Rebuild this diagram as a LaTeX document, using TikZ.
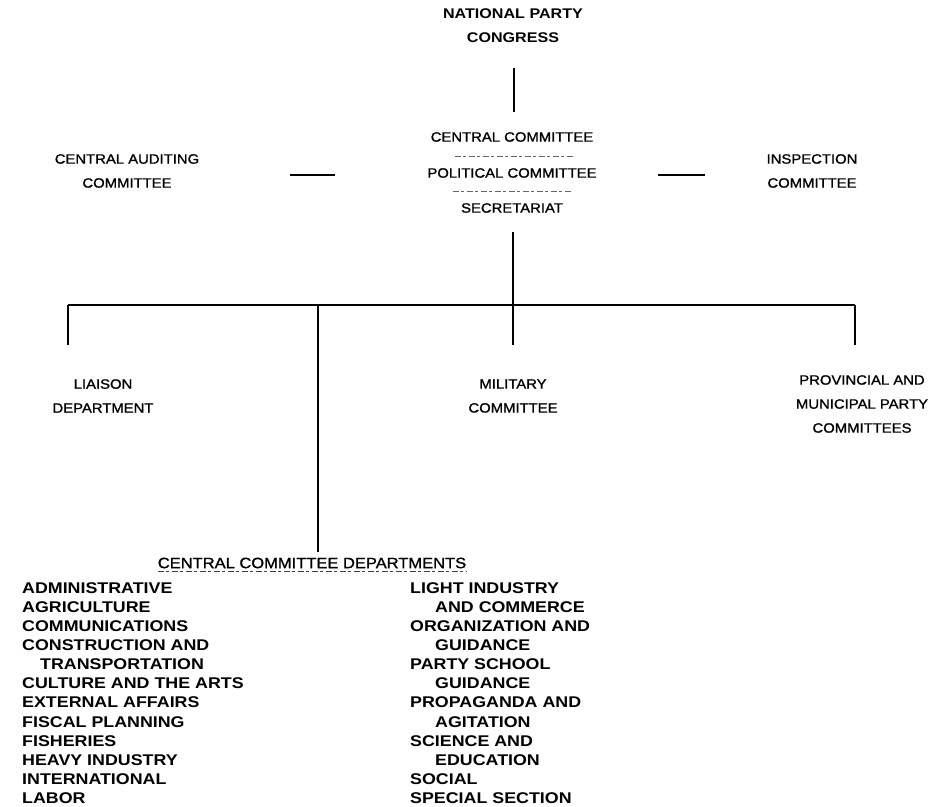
\documentclass[tikz,border=0pt]{standalone}
\usepackage{fontspec}
\setmainfont{Liberation Sans}[FakeStretch=1.15]
\newfontfamily\medfont{Liberation Sans}[FakeStretch=1.1, FakeBold=1.2]
\begin{document}
\begin{tikzpicture}[x=1pt,y=-1pt,
  lbl/.style={font=\medfont\fontsize{13.5}{24}\selectfont, align=center, inner sep=0pt},
  ttl/.style={font=\bfseries\fontsize{14}{24}\selectfont, align=center, inner sep=0pt},
  item/.style={font=\bfseries\fontsize{15.5}{19}\selectfont, anchor=west, inner sep=0pt},
  link/.style={line width=1.7pt, line cap=butt},
  faint/.style={line width=0.7pt, black!60, dash pattern=on 6pt off 2pt on 3pt off 3pt}]
\useasboundingbox (0,0) rectangle (947,806);
% top
\node[ttl] (npc) at (513,26) {NATIONAL PARTY\\CONGRESS};
\node[lbl] (cc) at (512,137) {CENTRAL COMMITTEE};
\node[lbl] (pc) at (512,173) {POLITICAL COMMITTEE};
\node[lbl] (sec) at (512,208) {SECRETARIAT};
\node[lbl] (cac) at (127,171) {CENTRAL AUDITING\\COMMITTEE};
\node[lbl] (ins) at (812,171) {INSPECTION\\COMMITTEE};
\node[lbl] (lia) at (103,396) {LIAISON\\DEPARTMENT};
\node[lbl] (mil) at (513,396) {MILITARY\\COMMITTEE};
\node[lbl] (prov) at (862,404) {PROVINCIAL AND\\MUNICIPAL PARTY\\COMMITTEES};
\node[lbl, font=\medfont\fontsize{15}{20}\selectfont] (ccd) at (312,563) {CENTRAL COMMITTEE DEPARTMENTS};
% connectors
\coordinate (t1) at (514,68); \coordinate (t2) at (514,112);
\draw[link, line width=2.4pt] (t1) -- (t2);
\draw[faint] (455,156) -- (575,156);
\draw[faint] (453,191) -- (572,191);
\coordinate (dl1) at (290,175); \coordinate (dl2) at (335,175);
\coordinate (dr1) at (658,175); \coordinate (dr2) at (705,175);
\draw[link] (dl1) -- (dl2);
\draw[link] (dr1) -- (dr2);
\coordinate (s1) at (513,232); \coordinate (bc) at (513,305);
\coordinate (bl) at (68,305); \coordinate (br) at (855,305);
\coordinate (bd) at (318,305);
\draw[link] (s1) -- (bc);
\draw[link] (bl) -- (br);
\draw[link] (bl) -- (68,345);
\draw[link] (bc) -- (513,345);
\draw[link] (br) -- (855,345);
\draw[link] (bd) -- (318,552);
\draw[faint, black!75] ([yshift=-3pt]ccd.south west) -- ([yshift=-3pt]ccd.south east);
% left column
\foreach \t [count=\i from 0] in {ADMINISTRATIVE,AGRICULTURE,COMMUNICATIONS,CONSTRUCTION AND,\hspace*{18pt}TRANSPORTATION,CULTURE AND THE ARTS,EXTERNAL AFFAIRS,FISCAL PLANNING,FISHERIES,HEAVY INDUSTRY,INTERNATIONAL,LABOR}
  \node[item] (l\i) at (22,588+19.1*\i) {\t};
% right column
\foreach \t [count=\i from 0] in {LIGHT INDUSTRY,\hspace*{25pt}AND COMMERCE,ORGANIZATION AND,\hspace*{25pt}GUIDANCE,PARTY SCHOOL,\hspace*{25pt}GUIDANCE,PROPAGANDA AND,\hspace*{25pt}AGITATION,SCIENCE AND,\hspace*{25pt}EDUCATION,SOCIAL,SPECIAL SECTION}
  \node[item] (r\i) at (410,588+19.1*\i) {\t};
\end{tikzpicture}
\end{document}
